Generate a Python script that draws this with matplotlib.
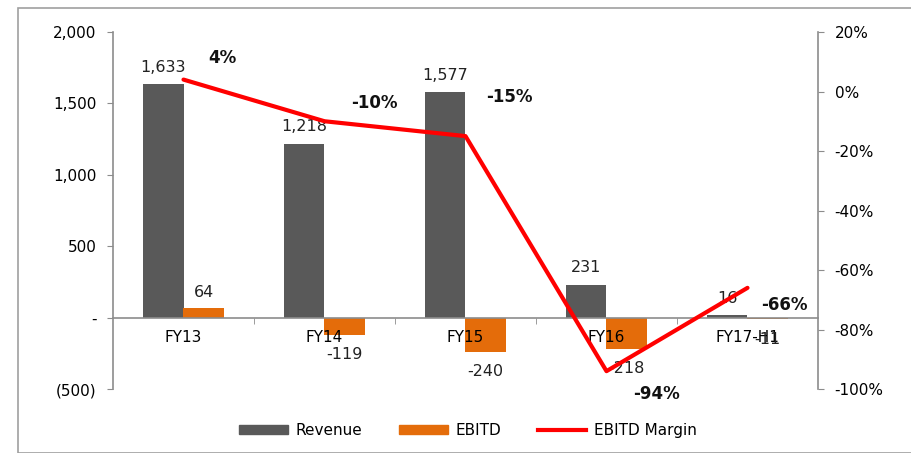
import numpy as np
import matplotlib
matplotlib.use("Agg")
import matplotlib.pyplot as plt
from matplotlib.patches import Rectangle, Patch
from matplotlib.lines import Line2D
from matplotlib.ticker import FuncFormatter, FixedLocator

plt.rcParams['font.family'] = ['DejaVu Sans']

# data
categories = ['FY13', 'FY14', 'FY15', 'FY16', 'FY17-H1']
revenue = [1633, 1218, 1577, 231, 16]
ebitd = [64, -119, -240, -218, -11]
margin = [0.04, -0.10, -0.15, -0.94, -0.66]
margin_labels = ['4%', '-10%', '-15%', '-94%', '-66%']

# label offsets (pixels) for the margin labels
margin_offsets = [(39, 22), (50, 18), (44, 39), (50, -23), (37, -17)]

c_rev = '#595959'
c_ebitd = '#E46C0A'
c_line = '#FF0000'
c_axis = '#8C8C8C'

fig = plt.figure(figsize=(9.12, 4.53), dpi=100)
ax = fig.add_axes([113/912, 1-389/453, (818-113)/912, (389-32)/453])

x = np.arange(len(categories))
w = 0.285
# zorder below the axis so the category labels sit on top of the bars
ax.bar(x - w/2, revenue, w, color=c_rev, zorder=1)
ax.bar(x + w/2, ebitd, w, color=c_ebitd, zorder=1)

ax.set_xlim(-0.5, len(categories) - 0.5)
ax.set_ylim(-500, 2000)
ax.set_yticks([-500, 0, 500, 1000, 1500, 2000])

def fmt_left(v, pos):
    if v == 0:
        return '-'
    if v < 0:
        return '({:,.0f})'.format(-v)
    return '{:,.0f}'.format(v)

ax.yaxis.set_major_formatter(FuncFormatter(fmt_left))
ax.tick_params(axis='y', direction='out', length=4, color=c_axis, labelsize=11, pad=8)

for s in ['top', 'right']:
    ax.spines[s].set_visible(False)
ax.spines['left'].set_color(c_axis)
ax.spines['left'].set_linewidth(1.2)
ax.spines['bottom'].set_position(('data', 0))
ax.spines['bottom'].set_color(c_axis)
ax.spines['bottom'].set_linewidth(1.2)

ax.set_xticks(x)
ax.set_xticklabels(categories)
ax.xaxis.set_minor_locator(FixedLocator(np.arange(0.5, len(categories) - 0.5, 1)))
ax.tick_params(axis='x', which='major', length=0, labelsize=11, pad=9)
ax.tick_params(axis='x', which='minor', length=4, color=c_axis, direction='out')

# bar labels
for i in range(len(categories)):
    ax.annotate('{:,}'.format(revenue[i]), (x[i] - w/2, revenue[i]),
                xytext=(0, 17), textcoords='offset pixels',
                ha='center', va='center', fontsize=11.5, color='#222222', zorder=5)
    off = 16 if ebitd[i] >= 0 else -20
    ax.annotate('{:,}'.format(ebitd[i]), (x[i] + w/2, ebitd[i]),
                xytext=(0, off), textcoords='offset pixels',
                ha='center', va='center', fontsize=11.5, color='#222222', zorder=5)

# margin on secondary axis
ax2 = ax.twinx()
ax2.plot(x, margin, color=c_line, linewidth=3, solid_capstyle='round', zorder=3)
ax2.set_ylim(-1.0, 0.2)
ax2.set_yticks(np.arange(-1.0, 0.21, 0.2))
ax2.yaxis.set_major_formatter(FuncFormatter(lambda v, p: '{:.0f}%'.format(round(v * 100))))
ax2.tick_params(axis='y', direction='out', length=4, color=c_axis, labelsize=11, pad=8)
for s in ['top', 'left', 'bottom']:
    ax2.spines[s].set_visible(False)
ax2.spines['right'].set_color(c_axis)
ax2.spines['right'].set_linewidth(1.2)

for i in range(len(categories)):
    ax2.annotate(margin_labels[i], (x[i], margin[i]),
                 xytext=margin_offsets[i], textcoords='offset pixels',
                 ha='center', va='center', fontsize=12, fontweight='bold', color='#111111')

# legend
handles = [Patch(color=c_rev), Patch(color=c_ebitd), Line2D([], [], color=c_line, linewidth=3)]
fig.legend(handles, ['Revenue', 'EBITD', 'EBITD Margin'], loc='center',
           bbox_to_anchor=(0.513, 0.05), ncol=3, frameon=False, fontsize=11,
           handlelength=3.2, handleheight=0.6, columnspacing=2.4, handletextpad=0.5)

# outer border
fig.patches.append(Rectangle((18/912, 0), 1, 1 - 8/453, transform=fig.transFigure,
                             fill=False, edgecolor='#A0A0A0', linewidth=1.2))

fig.savefig('out.png', dpi=100)
